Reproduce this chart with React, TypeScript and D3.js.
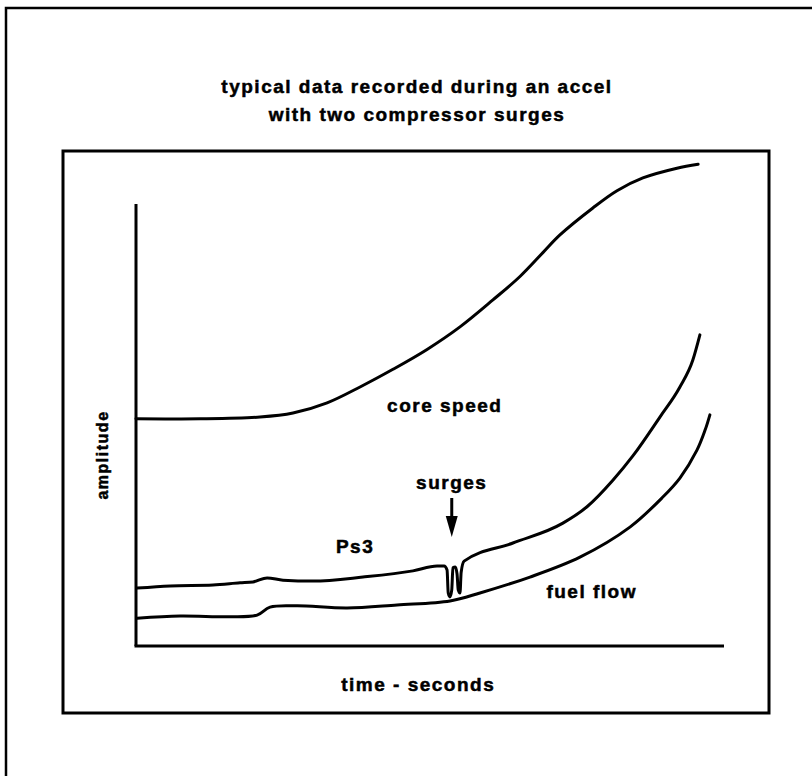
import React from "react";
import * as d3 from "d3";

// time in seconds (0..10 spans the x axis), amplitude in arbitrary units (0..10 spans the y axis)
const coreSpeedTime = [0, 1.09, 2.11, 2.67, 3.25, 3.81, 4.37, 4.95, 5.51, 6.07, 6.53, 6.92, 7.21, 7.77, 8.18, 8.62, 9.2, 9.56];
const coreSpeedAmp = [5.14, 5.14, 5.18, 5.27, 5.5, 5.86, 6.26, 6.71, 7.22, 7.83, 8.36, 8.9, 9.3, 9.91, 10.3, 10.59, 10.81, 10.9];

const ps3Time = [0.02, 0.58, 1.31, 1.77, 1.99, 2.23, 2.5, 3.01, 3.86, 4.71, 5.12, 5.24, 5.29, 5.31, 5.34, 5.37, 5.39, 5.43, 5.46, 5.48, 5.51, 5.53, 5.58, 6.41, 7.26, 7.67, 8.11, 8.45, 8.91, 9.25, 9.47, 9.59];
const ps3Amp = [1.31, 1.36, 1.38, 1.43, 1.45, 1.54, 1.49, 1.47, 1.56, 1.7, 1.81, 1.81, 1.72, 1.2, 1.11, 1.27, 1.77, 1.79, 1.63, 1.27, 1.2, 1.67, 1.92, 2.33, 2.78, 3.15, 3.75, 4.3, 5.18, 5.86, 6.47, 7.04];

const fuelTime = [0.02, 0.75, 1.6, 2.06, 2.28, 2.74, 3.59, 4.44, 5.34, 5.85, 6.7, 7.55, 8.4, 8.96, 9.25, 9.54, 9.68, 9.76];
const fuelAmp = [0.63, 0.68, 0.66, 0.7, 0.88, 0.91, 0.86, 0.93, 1.02, 1.2, 1.56, 2.01, 2.69, 3.37, 3.8, 4.43, 4.89, 5.23];

const titleLines = ["typical data recorded during an accel", "with two compressor surges"];
const xLabel = "time - seconds";
const yLabel = "amplitude";
const seriesLabels = ["core speed", "Ps3", "fuel flow"];
const surgeLabel = "surges";
const surgeTime = 5.37;

const W = 812;
const H = 776;
const FONT = "'Liberation Sans', Arial, Helvetica, sans-serif";

export default function App() {
  const x = d3.scaleLinear().domain([0, 10]).range([136, 724]);
  const y = d3.scaleLinear().domain([0, 10]).range([646, 204]);

  const smooth = d3
    .line<[number, number]>()
    .x((d) => x(d[0]))
    .y((d) => y(d[1]))
    .curve(d3.curveCatmullRom.alpha(0.5));
  const mono = d3
    .line<[number, number]>()
    .x((d) => x(d[0]))
    .y((d) => y(d[1]))
    .curve(d3.curveMonotoneX);

  const zip = (a: number[], b: number[]) => a.map((v, i) => [v, b[i]] as [number, number]);
  const paths = [
    smooth(zip(coreSpeedTime, coreSpeedAmp)),
    mono(zip(ps3Time, ps3Amp)),
    smooth(zip(fuelTime, fuelAmp)),
  ];

  const textStyle = {
    fontFamily: FONT,
    fontWeight: 700,
    fontSize: 19,
    letterSpacing: 1.5,
  } as React.CSSProperties;
  const tp = { stroke: "#000", strokeWidth: 0.5, fill: "#000" };
  const sx = x(surgeTime);

  return (
    <svg
      width={W}
      height={H}
      viewBox={`0 0 ${W} ${H}`}
      style={{ position: "absolute", left: 0, top: 0, background: "#fff" }}
    >
      <rect x={0} y={0} width={W} height={H} fill="#fff" />
      {/* outer frame (left and top edges visible) */}
      <path d={`M6,${H} V8 H${W}`} fill="none" stroke="#000" strokeWidth={2.5} />
      {/* title */}
      <text x={417} y={93} textAnchor="middle" style={textStyle} {...tp}>
        {titleLines[0]}
      </text>
      <text x={417} y={121} textAnchor="middle" style={textStyle} {...tp}>
        {titleLines[1]}
      </text>
      {/* inner frame */}
      <rect x={63} y={151} width={706} height={562} fill="none" stroke="#000" strokeWidth={3} />
      {/* axes */}
      <line x1={x(0)} y1={y(10)} x2={x(0)} y2={y(0)} stroke="#000" strokeWidth={3} />
      <line x1={x(0) - 1.5} y1={y(0)} x2={x(10)} y2={y(0)} stroke="#000" strokeWidth={3} />
      {/* series */}
      {paths.map((d, i) => (
        <path key={i} d={d || ""} fill="none" stroke="#000" strokeWidth={3} strokeLinejoin="round" strokeLinecap="round" />
      ))}
      {/* series labels */}
      <text x={x(4.27)} y={y(5.3)} style={textStyle} {...tp}>
        {seriesLabels[0]}
      </text>
      <text x={x(3.4)} y={y(2.1)} style={textStyle} {...tp}>
        {seriesLabels[1]}
      </text>
      <text x={x(6.98)} y={y(1.08)} style={textStyle} {...tp}>
        {seriesLabels[2]}
      </text>
      {/* surges annotation */}
      <text x={sx} y={489} textAnchor="middle" style={textStyle} {...tp}>
        {surgeLabel}
      </text>
      <line x1={sx} y1={498} x2={sx} y2={520} stroke="#000" strokeWidth={3} />
      <path d={`M${sx - 6},516 L${sx + 6},516 L${sx},537 Z`} fill="#000" />
      {/* axis labels */}
      <text x={x(4.8)} y={691} textAnchor="middle" style={textStyle} {...tp}>
        {xLabel}
      </text>
      <text
        transform={`translate(108,455) rotate(-90)`}
        textAnchor="middle"
        style={{ ...textStyle, fontSize: 16, letterSpacing: 1.5 }}
        {...tp}
      >
        {yLabel}
      </text>
    </svg>
  );
}
